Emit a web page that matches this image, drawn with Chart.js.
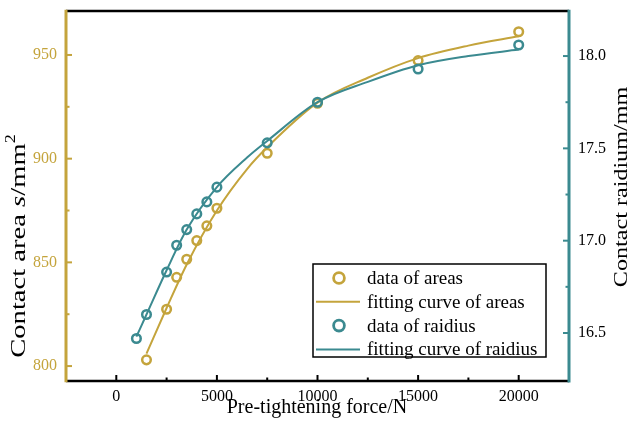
<!DOCTYPE html>
<html>
<head>
<meta charset="utf-8">
<script src="https://cdn.jsdelivr.net/npm/chart.js@4.4.1/dist/chart.umd.min.js"></script>
<style>
    html, body { margin: 0; padding: 0; background: #fff; }
    #wrap { width: 631px; height: 442px; }
</style>
</head>
<body>
<div id="wrap"><canvas id="forceChart" width="631" height="442"></canvas></div>
<script>
// Contact area / contact radius vs. pre-tightening force

// measured points
const forceAreas = [1500, 2500, 3000, 3500, 4000, 4500, 5000, 7500, 10000, 15000, 20000];
const areas = [803, 827.4, 842.8, 851.5, 860.5, 867.6, 876.1, 902.6, 926.7, 947.3, 961.2];

const forceRadius = [1000, 1500, 2500, 3000, 3500, 4000, 4500, 5000, 7500, 10000, 15000, 20000];
const radius = [16.47, 16.60, 16.83, 16.975, 17.06, 17.145, 17.21, 17.29, 17.53, 17.75, 17.93, 18.06];

// fitted curves (sampled)
const areaFitForce = [1500, 2500, 3500, 5000, 6500, 7500, 10000, 12500, 15000, 17500, 20000];
const areaFit = [806, 828, 849, 875, 895, 905.5, 927, 939, 948.5, 954.5, 959];

const radiusFitForce = [1000, 1500, 2500, 3500, 5000, 6500, 7500, 10000, 12500, 15000, 17500, 20000];
const radiusFit = [16.48, 16.60, 16.84, 17.06, 17.29, 17.45, 17.54, 17.75, 17.86, 17.95, 18.00, 18.035];

// tick labels
const xTicks = [0, 5000, 10000, 15000, 20000];
const areaTicks = [800, 850, 900, 950];
const radiusTicks = [16.5, 17.0, 17.5, 18.0];

const GOLD = '#c4a43c';
const TEAL = '#3b8a90';
const SERIF = '"Liberation Serif", "Times New Roman", serif';

function toXY(xs, ys) {
    return xs.map((x, i) => ({ x: x, y: ys[i] }));
}

function midpoints(arr) {
    const out = [];
    for (let i = 0; i < arr.length - 1; i++) out.push((arr[i] + arr[i + 1]) / 2);
    return out;
}

// draws a mixed-style text run centred on (cx, cy); stretch widens it along its direction
function drawRich(ctx, parts, cx, cy, angle, stretch) {
    ctx.save();
    ctx.translate(cx, cy);
    ctx.rotate(angle);
    ctx.scale(stretch || 1, 1);
    let total = 0;
    parts.forEach(p => { ctx.font = p.font; total += ctx.measureText(p.text).width; });
    let x = -total / 2;
    ctx.textAlign = 'left';
    ctx.textBaseline = 'middle';
    ctx.fillStyle = '#000';
    parts.forEach(p => {
        ctx.font = p.font;
        ctx.fillText(p.text, x, p.dy || 0);
        x += ctx.measureText(p.text).width;
    });
    ctx.restore();
}

const framePlugin = {
    id: 'frame',
    afterDatasetsDraw(chart) {
        const ctx = chart.ctx;
        const a = chart.chartArea;
        const sx = chart.scales.x, sl = chart.scales.yL, sr = chart.scales.yR;

        ctx.save();
        // inward tick marks
        function tickX(values, len) {
            values.forEach(v => {
                const px = sx.getPixelForValue(v);
                ctx.beginPath(); ctx.moveTo(px, a.bottom); ctx.lineTo(px, a.bottom - len); ctx.stroke();
            });
        }
        function tickY(scale, values, len, side) {
            values.forEach(v => {
                const py = scale.getPixelForValue(v);
                const x0 = side === 'left' ? a.left : a.right;
                const x1 = side === 'left' ? a.left + len : a.right - len;
                ctx.beginPath(); ctx.moveTo(x0, py); ctx.lineTo(x1, py); ctx.stroke();
            });
        }
        ctx.lineWidth = 2;
        ctx.strokeStyle = '#000';
        tickX(xTicks, 6);
        tickX(midpoints(xTicks), 3.5);
        ctx.strokeStyle = GOLD;
        tickY(sl, areaTicks, 6, 'left');
        tickY(sl, midpoints(areaTicks), 3.5, 'left');
        ctx.strokeStyle = TEAL;
        tickY(sr, radiusTicks, 6, 'right');
        tickY(sr, midpoints(radiusTicks), 3.5, 'right');

        // frame lines
        ctx.strokeStyle = '#000';
        ctx.lineWidth = 2.5;
        ctx.beginPath(); ctx.moveTo(a.left, a.top); ctx.lineTo(a.right, a.top); ctx.stroke();
        ctx.beginPath(); ctx.moveTo(a.left, a.bottom); ctx.lineTo(a.right, a.bottom); ctx.stroke();
        ctx.lineWidth = 3;
        ctx.strokeStyle = GOLD;
        ctx.beginPath(); ctx.moveTo(a.left, a.top - 1.2); ctx.lineTo(a.left, a.bottom + 1.2); ctx.stroke();
        ctx.strokeStyle = TEAL;
        ctx.beginPath(); ctx.moveTo(a.right, a.top - 1.2); ctx.lineTo(a.right, a.bottom + 1.5); ctx.stroke();

        // axis titles
        const f = '20px ' + SERIF;
        const fl = '22px ' + SERIF;
        drawRich(ctx, [
            { text: 'Contact area ', font: fl },
            { text: 's', font: 'italic ' + fl },
            { text: '/mm', font: fl },
            { text: '2', font: '14px ' + SERIF, dy: -7.5 }
        ], 19, 246, -Math.PI / 2, 1.3);
        drawRich(ctx, [{ text: 'Contact raidium/mm', font: '18px ' + SERIF }], 622, 187, -Math.PI / 2, 1.34);
        drawRich(ctx, [{ text: 'Pre-tightening force/N', font: f }], 317, 408, 0);

        // legend box
        const lx = a.right - 256, ly = a.bottom - 117, lw = 233, lh = 93;
        ctx.lineWidth = 1.5;
        ctx.strokeStyle = '#000';
        ctx.strokeRect(lx, ly, lw, lh);
        const rows = [
            { label: 'data of areas', color: GOLD, kind: 'point' },
            { label: 'fitting curve of areas', color: GOLD, kind: 'line' },
            { label: 'data of raidius', color: TEAL, kind: 'point' },
            { label: 'fitting curve of raidius', color: TEAL, kind: 'line' }
        ];
        ctx.font = '19px ' + SERIF;
        ctx.textBaseline = 'middle';
        ctx.textAlign = 'left';
        rows.forEach((r, i) => {
            const cy = ly + 14 + i * 23.8;
            ctx.strokeStyle = r.color;
            if (r.kind === 'point') {
                ctx.lineWidth = 2.8;
                ctx.beginPath(); ctx.arc(lx + 26, cy, 5.4, 0, Math.PI * 2); ctx.stroke();
            } else {
                ctx.lineWidth = 2;
                ctx.beginPath(); ctx.moveTo(lx + 3, cy); ctx.lineTo(lx + 47, cy); ctx.stroke();
            }
            ctx.fillStyle = '#000';
            ctx.fillText(r.label, lx + 54, cy + 1);
        });
        ctx.restore();
    }
};

function fixedWidth(w) {
    return function (scale) { scale.width = w; };
}

const chart = new Chart(document.getElementById('forceChart').getContext('2d'), {
    type: 'scatter',
    data: {
        datasets: [
            {
                label: 'data of raidius',
                data: toXY(forceRadius, radius),
                yAxisID: 'yR',
                showLine: false,
                pointRadius: 4.3,
                pointBorderWidth: 2.5,
                pointBorderColor: TEAL,
                pointBackgroundColor: 'rgba(0,0,0,0)',
                order: 1
            },
            {
                label: 'fitting curve of raidius',
                data: toXY(radiusFitForce, radiusFit),
                yAxisID: 'yR',
                showLine: true,
                borderColor: TEAL,
                borderWidth: 2,
                pointRadius: 0,
                cubicInterpolationMode: 'monotone',
                order: 2
            },
            {
                label: 'data of areas',
                data: toXY(forceAreas, areas),
                yAxisID: 'yL',
                showLine: false,
                pointRadius: 4.3,
                pointBorderWidth: 2.5,
                pointBorderColor: GOLD,
                pointBackgroundColor: 'rgba(0,0,0,0)',
                order: 3
            },
            {
                label: 'fitting curve of areas',
                data: toXY(areaFitForce, areaFit),
                yAxisID: 'yL',
                showLine: true,
                borderColor: GOLD,
                borderWidth: 2,
                pointRadius: 0,
                cubicInterpolationMode: 'monotone',
                order: 4
            }
        ]
    },
    options: {
        responsive: false,
        animation: false,
        devicePixelRatio: 1,
        layout: { padding: { top: 11, left: 0, right: 0, bottom: 0 } },
        plugins: {
            legend: { display: false },
            tooltip: { enabled: false }
        },
        scales: {
            x: {
                type: 'linear',
                min: -2500,
                max: 22500,
                grid: { display: false, drawTicks: false },
                border: { display: false },
                afterBuildTicks: s => { s.ticks = xTicks.map(v => ({ value: v })); },
                afterFit: s => { s.height = 61; },
                ticks: {
                    color: '#000',
                    padding: 6,
                    maxRotation: 0,
                    autoSkip: false,
                    font: { family: SERIF, size: 16 },
                    callback: v => String(v)
                }
            },
            yL: {
                type: 'linear',
                position: 'left',
                min: 792.8,
                max: 971.2,
                // label offset comes from tickLength so it does not pad the chart top
                grid: { display: false, drawTicks: true, tickLength: 9 },
                border: { display: false },
                afterBuildTicks: s => { s.ticks = areaTicks.map(v => ({ value: v })); },
                afterFit: fixedWidth(66),
                ticks: {
                    color: GOLD,
                    padding: 0,
                    autoSkip: false,
                    font: { family: SERIF, size: 16 },
                    callback: v => String(v)
                }
            },
            yR: {
                type: 'linear',
                position: 'right',
                min: 16.24,
                max: 18.244,
                grid: { display: false, drawTicks: true, tickLength: 9 },
                border: { display: false },
                afterBuildTicks: s => { s.ticks = radiusTicks.map(v => ({ value: v })); },
                afterFit: fixedWidth(62),
                ticks: {
                    color: '#000',
                    padding: 0,
                    autoSkip: false,
                    font: { family: SERIF, size: 16 },
                    callback: v => v.toFixed(1)
                }
            }
        }
    },
    plugins: [framePlugin]
});
</script>
</body>
</html>
